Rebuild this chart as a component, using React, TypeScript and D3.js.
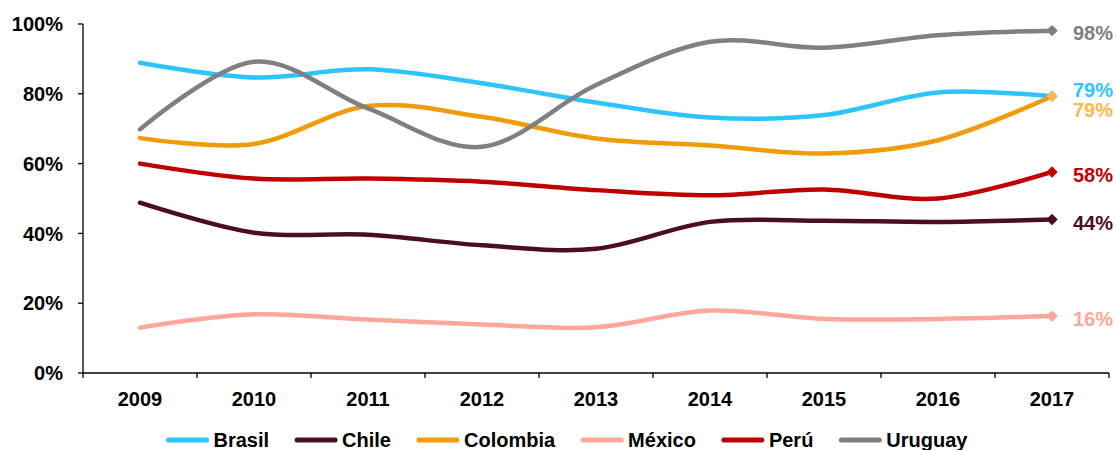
import React from "react";
import * as d3 from "d3";

const years = ["2009", "2010", "2011", "2012", "2013", "2014", "2015", "2016", "2017"];
const yTicks = [0, 20, 40, 60, 80, 100];

const brasil = [88.9, 84.7, 87.0, 83.0, 77.5, 73.2, 73.9, 80.4, 79.3];
const chile = [48.8, 40.2, 39.6, 36.6, 35.6, 43.3, 43.6, 43.3, 44.0];
const colombia = [67.3, 65.6, 76.5, 73.4, 67.2, 65.2, 62.9, 66.7, 79.3];
const mexico = [13.0, 16.8, 15.3, 13.9, 13.1, 17.9, 15.5, 15.5, 16.3];
const peru = [60.0, 55.7, 55.7, 54.8, 52.4, 50.9, 52.6, 50.0, 57.6];
const uruguay = [69.8, 89.2, 75.8, 64.8, 82.5, 94.9, 93.2, 96.8, 98.1];

const seriesNames = ["Brasil", "Chile", "Colombia", "México", "Perú", "Uruguay"];
const seriesValues = [brasil, chile, colombia, mexico, peru, uruguay];
const lineColors = ["#2EC4FF", "#4B0E1F", "#F09C09", "#FFA799", "#C00000", "#808080"];
const endColors = ["#2EC4FF", "#4B0E1F", "#FFB84A", "#FFA799", "#C00000", "#808080"];
const labelDy = [-6, 3, 14, 2.5, 3, 2.5];

const W = 1116;
const H = 450;
const margin = { left: 83, right: 7, top: 24, bottom: 77 };
const FONT = "'Liberation Sans', Arial, sans-serif";

function measure(text: string, size: number): number {
  const c = document.createElement("canvas");
  const ctx = c.getContext("2d");
  if (!ctx) return text.length * size * 0.55;
  ctx.font = `bold ${size}px 'Liberation Sans', Arial, sans-serif`;
  return ctx.measureText(text).width;
}

export default function App() {
  const x = d3
    .scaleBand<string>()
    .domain(years)
    .range([margin.left, W - margin.right])
    .padding(0);
  const y = d3
    .scaleLinear()
    .domain([0, 100])
    .range([H - margin.bottom, margin.top]);
  const cx = (yr: string) => (x(yr) as number) + x.bandwidth() / 2;

  const line = d3
    .line<number>()
    .x((_, i) => cx(years[i]))
    .y((v) => y(v))
    .curve(d3.curveCardinal.tension(0));

  const diamond = d3.symbol().type(d3.symbolSquare).size(44)();

  const y0 = y(0);
  const boundaries = years.map((yr) => x(yr) as number).concat([W - margin.right]);

  // legend layout
  const legSize = 20;
  const lineLen = 42;
  const gapAfterLine = 5;
  const gapBetween = 26;
  const widths = seriesNames.map((n) => measure(n, legSize));
  const itemW = widths.map((w) => lineLen + gapAfterLine + w);
  const total = itemW.reduce((a, b) => a + b, 0) + gapBetween * (seriesNames.length - 1);
  let start = 567 - total / 2;
  const legX: number[] = [];
  itemW.forEach((w) => {
    legX.push(start);
    start += w + gapBetween;
  });
  const legY = 440;

  const last = years.length - 1;
  const fs = 20;

  return (
    <div style={{ position: "absolute", left: 0, top: 0 }}>
      <svg width={W} height={H} style={{ display: "block", background: "#fff" }}>
        {/* y axis */}
        <line x1={margin.left} x2={margin.left} y1={margin.top} y2={y0} stroke="#000" strokeWidth={1.3} />
        {yTicks.map((t) => (
          <g key={t}>
            <line x1={margin.left - 5} x2={margin.left} y1={y(t)} y2={y(t)} stroke="#000" strokeWidth={1.3} />
            <text
              x={63}
              y={y(t)}
              dy="0.36em"
              textAnchor="end"
              fontFamily={FONT}
              fontWeight="bold"
              fontSize={fs}
              fill="#000"
            >
              {t}%
            </text>
          </g>
        ))}
        {/* x axis */}
        <line x1={margin.left} x2={W - margin.right} y1={y0} y2={y0} stroke="#000" strokeWidth={1.3} />
        {boundaries.map((bx, i) => (
          <line key={i} x1={bx} x2={bx} y1={y0} y2={y0 + 5} stroke="#000" strokeWidth={1.3} />
        ))}
        {years.map((yr) => (
          <text
            key={yr}
            x={cx(yr)}
            y={406}
            textAnchor="middle"
            fontFamily={FONT}
            fontWeight="bold"
            fontSize={fs}
            fill="#000"
          >
            {yr}
          </text>
        ))}
        {/* lines */}
        {seriesValues.map((vals, si) => (
          <path
            key={seriesNames[si]}
            d={line(vals) || ""}
            fill="none"
            stroke={lineColors[si]}
            strokeWidth={4.5}
            strokeLinecap="round"
            strokeLinejoin="round"
          />
        ))}
        {/* end markers */}
        {seriesValues.map((vals, si) => (
          <path
            key={"m" + si}
            d={diamond || ""}
            transform={`translate(${cx(years[last])},${y(vals[last])}) rotate(45)`}
            fill={endColors[si]}
            stroke={endColors[si]}
            strokeWidth={1.5}
            strokeLinejoin="round"
          />
        ))}
        {/* end labels */}
        {seriesValues.map((vals, si) => (
          <text
            key={"l" + si}
            x={1073}
            y={y(vals[last]) + labelDy[si]}
            dy="0.36em"
            fontFamily={FONT}
            fontWeight="bold"
            fontSize={fs}
            fill={endColors[si]}
          >
            {Math.round(vals[last])}%
          </text>
        ))}
        {/* legend */}
        {seriesNames.map((n, si) => (
          <g key={"leg" + n}>
            <line
              x1={legX[si] + 2}
              x2={legX[si] + lineLen - 2}
              y1={legY}
              y2={legY}
              stroke={lineColors[si]}
              strokeWidth={5}
              strokeLinecap="round"
            />
            <text
              x={legX[si] + lineLen + gapAfterLine}
              y={legY}
              dy="0.36em"
              fontFamily={FONT}
              fontWeight="bold"
              fontSize={legSize}
              fill="#000"
            >
              {n}
            </text>
          </g>
        ))}
      </svg>
    </div>
  );
}
